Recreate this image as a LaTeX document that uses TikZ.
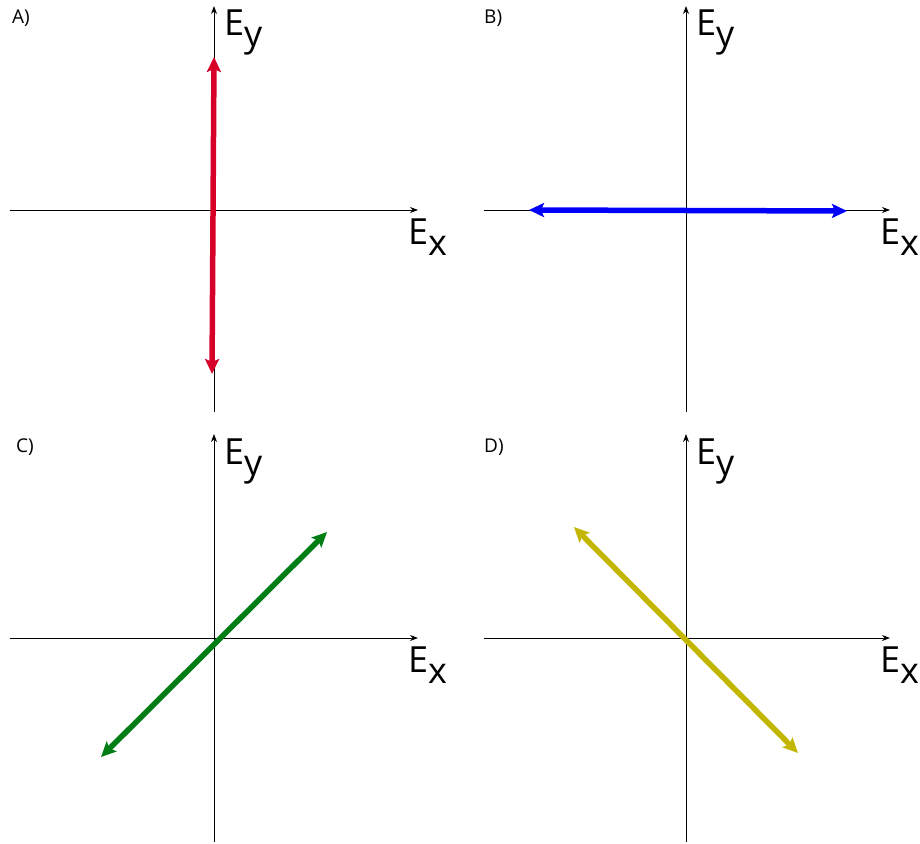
\documentclass[tikz,border=0pt]{standalone}
\usepackage{fontspec}
\setmainfont{Open Sans}
\usetikzlibrary{arrows.meta}
\definecolor{vred}{RGB}{214,0,40}
\definecolor{vblue}{RGB}{0,0,250}
\definecolor{vgreen}{RGB}{0,125,20}
\definecolor{vyellow}{RGB}{195,182,0}
\tikzset{
  axis/.style={line width=0.9pt,-{Stealth[length=8pt,width=6pt]}},
  vec/.style={line width=5.5pt,{Stealth[length=15pt,width=14pt,inset=3pt]}-{Stealth[length=15pt,width=14pt,inset=3pt]}},
  biglabel/.style={inner sep=0pt,anchor=base west,font=\fontsize{36}{36}\selectfont},
  panel/.style={inner sep=0pt,anchor=base west,font=\fontsize{19}{19}\selectfont}
}
\newcommand{\Ecomp}[1]{E\raisebox{-11pt}{#1}}
\begin{document}
\begin{tikzpicture}[x=1pt,y=-1pt]
\useasboundingbox (0,0) rectangle (920,843);
% Panel A
\coordinate (Ab) at (214,412); \coordinate (At) at (214,6);
\coordinate (Al) at (10,210); \coordinate (Ar) at (418,210);
\draw[axis] (Ab) -- (At);
\draw[axis] (Al) -- (Ar);
\node[biglabel] (AEy) at (224,36) {\Ecomp{y}};
\node[biglabel] (AEx) at (408,244) {\Ecomp{x}};
\node[panel] (Alab) at (12,24) {A)};
\coordinate (A1) at (214,57); \coordinate (A2) at (212,374);
\draw[vec,vred] (A1) -- (A2);
% Panel B
\coordinate (Bb) at (686,412); \coordinate (Bt) at (686,6);
\coordinate (Bl) at (484,210); \coordinate (Br) at (890,210);
\draw[axis] (Bb) -- (Bt);
\draw[axis] (Bl) -- (Br);
\node[biglabel] (BEy) at (696,36) {\Ecomp{y}};
\node[biglabel] (BEx) at (880,244) {\Ecomp{x}};
\node[panel] (Blab) at (484,24) {B)};
\coordinate (B1) at (529,210); \coordinate (B2) at (847,211);
\draw[vec,vblue] (B1) -- (B2);
% Panel C
\coordinate (Cb) at (214,842); \coordinate (Ct) at (214,434);
\coordinate (Cl) at (10,638); \coordinate (Cr) at (418,638);
\draw[axis] (Cb) -- (Ct);
\draw[axis] (Cl) -- (Cr);
\node[biglabel] (CEy) at (224,464) {\Ecomp{y}};
\node[biglabel] (CEx) at (408,672) {\Ecomp{x}};
\node[panel] (Clab) at (16,452) {C)};
\coordinate (C1) at (101,757); \coordinate (C2) at (327,532);
\draw[vec,vgreen] (C1) -- (C2);
% Panel D
\coordinate (Db) at (686,842); \coordinate (Dt) at (686,434);
\coordinate (Dl) at (484,638); \coordinate (Dr) at (890,638);
\draw[axis] (Db) -- (Dt);
\draw[axis] (Dl) -- (Dr);
\node[biglabel] (DEy) at (696,464) {\Ecomp{y}};
\node[biglabel] (DEx) at (880,672) {\Ecomp{x}};
\node[panel] (Dlab) at (484,452) {D)};
\coordinate (D1) at (574,527); \coordinate (D2) at (798,753);
\draw[vec,vyellow] (D1) -- (D2);
\end{tikzpicture}
\end{document}
